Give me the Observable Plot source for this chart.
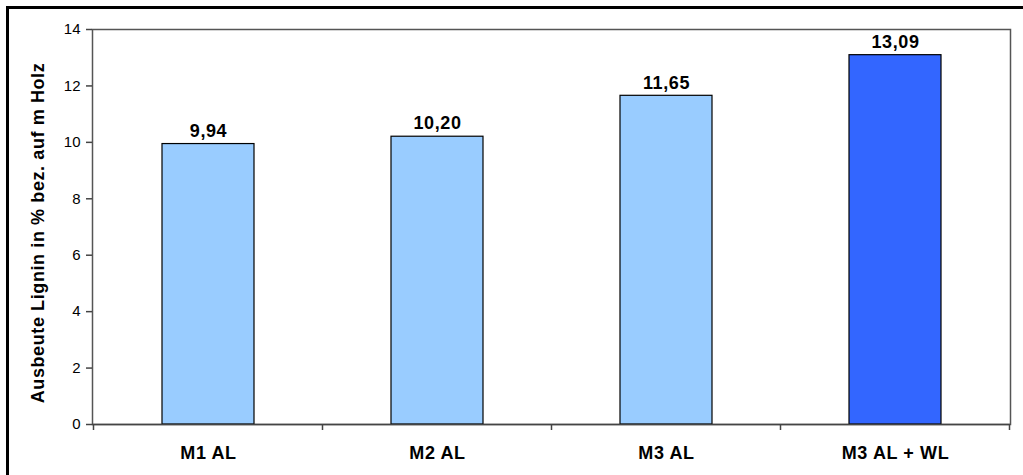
<!DOCTYPE html>
<html>
<head>
<meta charset="utf-8">
<script src="https://cdn.jsdelivr.net/npm/d3@7"></script>
<script src="https://cdn.jsdelivr.net/npm/@observablehq/plot@0.6"></script>
<style>
  html, body { margin: 0; padding: 0; background: #fff; }
  #wrap { position: relative; width: 1023px; height: 475px; overflow: hidden; }
  #frame { position: absolute; left: 6px; top: 6px; width: 1100px; height: 600px; border: 3px solid #000; pointer-events: none; }
  svg { font-family: Arial, "Liberation Sans", sans-serif; }
  .wide text { letter-spacing: 0.6px; }
</style>
</head>
<body>
<div id="wrap"><div id="frame"></div></div>
<script>
const categories = ["M1 AL", "M2 AL", "M3 AL", "M3 AL + WL"];
const values = [9.94, 10.20, 11.65, 13.09];
const valueLabels = ["9,94", "10,20", "11,65", "13,09"];
const fills = ["#99CCFF", "#99CCFF", "#99CCFF", "#3366FF"];
const yTicks = [0, 2, 4, 6, 8, 10, 12, 14];
const yLabel = "Ausbeute Lignin in % bez. auf m Holz";

const data = categories.map((c, i) => ({cat: c, value: values[i], label: valueLabels[i], fill: fills[i]}));

// category boundary ticks drawn from the x scale
function boundaryTicks(index, scales, values, dims) {
  const x = scales.x, y = scales.y;
  const step = typeof x.step === "function" ? x.step() : x.step;
  const bw = typeof x.bandwidth === "function" ? x.bandwidth() : x.bandwidth;
  const g = d3.create("svg:g");
  const y0 = y(0);
  const xs = categories.map(c => x(c) - (step - bw) / 2);
  xs.push(x(categories[categories.length - 1]) + bw + (step - bw) / 2);
  for (const xv of xs) {
    g.append("line").attr("x1", xv).attr("x2", xv).attr("y1", y0).attr("y2", y0 + 6)
      .attr("stroke", "#444").attr("stroke-width", 1.5);
  }
  return g.node();
}

const chart = Plot.plot({
  width: 1023,
  height: 475,
  marginLeft: 92,
  marginRight: 13,
  marginTop: 29,
  marginBottom: 51,
  style: {fontFamily: 'Arial, "Liberation Sans", sans-serif', background: "transparent"},
  x: {domain: categories, paddingInner: 0.6, paddingOuter: 0.3, label: null},
  y: {domain: [0, 14], label: null},
  marks: [
    Plot.frame({stroke: "#555", strokeWidth: 1.5}),
    Plot.barY(data, {x: "cat", y: "value", fill: d => d.fill, stroke: "#000", strokeWidth: 1.2}),
    Plot.text(data, {x: "cat", y: "value", text: "label", dy: -13, fontSize: 18, fontWeight: "bold", fill: "#000", className: "wide"}),
    Plot.axisY({ticks: yTicks, tickSize: 6, tickPadding: 6, fontSize: 15, tickFormat: d => String(d), stroke: "#444", strokeWidth: 1.5, color: "#000", label: null}),
    Plot.text([yLabel], {text: d => d, frameAnchor: "left", textAnchor: "middle", rotate: -90, dx: -54, dy: 6, fontSize: 18, fontWeight: "bold", fill: "#000", className: "wide"}),
    Plot.axisX({tickSize: 0, tickPadding: 22, fontSize: 18, fontWeight: "bold", label: null, color: "#000", className: "wide"}),
    Plot.ruleY([0], {stroke: "#444", strokeWidth: 1.5}),
    boundaryTicks
  ]
});
document.getElementById("wrap").prepend(chart);
</script>
</body>
</html>
